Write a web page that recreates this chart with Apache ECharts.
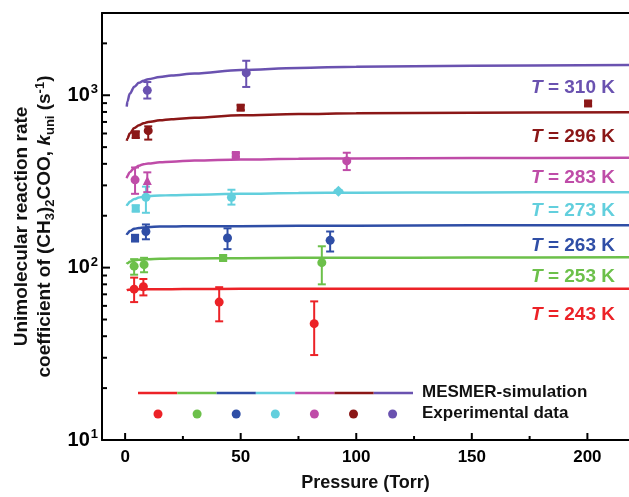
<!DOCTYPE html>
<html>
<head>
<meta charset="utf-8">
<script src="https://cdn.jsdelivr.net/npm/echarts@6/dist/echarts.min.js"></script>
<style>html,body{margin:0;padding:0;background:#fff}#c{width:629px;height:497px}</style>
</head>
<body>
<div id="c"></div>
<script>
// ---------- data ----------
const temps = ['243', '253', '263', '273', '283', '296', '310'];
const colors = ['#ec2227', '#6cc04a', '#2f4ea6', '#62cfdd', '#bf4ca8', '#8b1717', '#6a52b0'];

// MESMER simulation (shared pressure grid, Torr)
const simP = [0.7, 1, 2, 4, 6, 8, 10, 15, 20, 30, 50, 75, 100, 150, 218];
const sim243 = [74, 74.2, 74.5, 74.8, 75, 75, 75, 75, 75, 75.2, 75.3, 75.4, 75.5, 75.5, 75.5];
const sim253 = [105, 106, 108, 110, 111, 111.5, 112, 112.5, 113, 113, 113.5, 114, 114, 114.5, 115];
const sim263 = [155, 158, 163, 168, 170, 171, 172, 173, 173, 174, 174, 175, 175, 176, 176];
const sim273 = [228, 233, 241, 250, 255, 258, 260, 262, 263, 265, 268, 271, 272, 273, 274];
const sim283 = [330, 340, 358, 378, 390, 398, 402, 408, 412, 418, 424, 428, 430, 432, 434];
const sim296 = [545, 560, 600, 645, 670, 688, 700, 715, 725, 740, 765, 778, 785, 792, 796];
const sim310 = [860, 920, 1020, 1120, 1180, 1215, 1240, 1275, 1300, 1335, 1400, 1440, 1465, 1485, 1500];
const simK = [sim243, sim253, sim263, sim273, sim283, sim296, sim310];

// Experimental data: pressure, k, lower, upper, marker
const exp243P = [3.9, 7.9, 40.7, 81.8];
const exp243K = [75, 77.5, 63.1, 47.3];
const exp243Lo = [63.1, 69, 48.8, 31.1];
const exp243Hi = [87.5, 85.9, 77, 63.7];
const exp243S = ['circle', 'circle', 'circle', 'circle'];

const exp253P = [3.9, 8.2, 42.4, 85.1];
const exp253K = [102, 104, 113.7, 106.9];
const exp253Lo = [91, 94, 110, 80];
const exp253Hi = [112, 114, 117.5, 133];
const exp253S = ['circle', 'circle', 'rect', 'circle'];

const exp263P = [4.3, 9, 44.3, 88.7];
const exp263K = [148, 162, 148.6, 144];
const exp263Lo = [142, 146, 128, 124];
const exp263Hi = [155, 178, 169, 162];
const exp263S = ['rect', 'circle', 'circle', 'circle'];

const exp273P = [4.6, 9, 46, 92.3];
const exp273K = [220, 256, 256, 277];
const exp273Lo = [212, 208, 232, 272];
const exp273Hi = [230, 295, 283, 282];
const exp273S = ['rect', 'circle', 'circle', 'diamond'];

const exp283P = [4.3, 9.6, 47.9, 95.9];
const exp283K = [323, 320, 450, 416];
const exp283Lo = [268, 274, 440, 368];
const exp283Hi = [381, 357, 462, 464];
const exp283S = ['circle', 'triangle', 'rect', 'circle'];

const exp296P = [4.6, 10, 50, 200.3];
const exp296K = [591, 623, 847, 896];
const exp296Lo = [565, 553, 820, 870];
const exp296Hi = [617, 660, 875, 922];
const exp296S = ['rect', 'circle', 'rect', 'rect'];

const exp310P = [9.6, 52.4];
const exp310K = [1068, 1348];
const exp310Lo = [957, 1117];
const exp310Hi = [1193, 1585];
const exp310S = ['circle', 'circle'];

const expSets = [
  [exp243P, exp243K, exp243Lo, exp243Hi, exp243S],
  [exp253P, exp253K, exp253Lo, exp253Hi, exp253S],
  [exp263P, exp263K, exp263Lo, exp263Hi, exp263S],
  [exp273P, exp273K, exp273Lo, exp273Hi, exp273S],
  [exp283P, exp283K, exp283Lo, exp283Hi, exp283S],
  [exp296P, exp296K, exp296Lo, exp296Hi, exp296S],
  [exp310P, exp310K, exp310Lo, exp310Hi, exp310S]
];

const xMajor = [0, 50, 100, 150, 200];
const xMinor = [25, 75, 125, 175];
const yMajor = [10, 100, 1000];
const yMinor = [20, 30, 40, 50, 60, 70, 80, 90, 200, 300, 400, 500, 600, 700, 800, 900, 2000];
const supDigits = {10: '1', 100: '2', 1000: '3'};

// ---------- chart ----------
const FF = '"Liberation Sans", Arial, Helvetica, sans-serif';
const X_MIN = -10, X_MAX = 218, Y_MIN = 10, Y_MAX = 3000;
const chart = echarts.init(document.getElementById('c'), null, {renderer: 'canvas'});

const series = [];
temps.forEach((t, i) => {
  series.push({
    type: 'line', name: 'sim' + t, xAxisIndex: 0, yAxisIndex: 0,
    data: simP.map((p, j) => [p, simK[i][j]]),
    showSymbol: false, smooth: 0.35, smoothMonotone: 'x',
    lineStyle: {color: colors[i], width: 2.5}, z: 2, silent: true
  });
  const s = expSets[i];
  series.push({
    type: 'custom', name: 'err' + t, xAxisIndex: 0, yAxisIndex: 0,
    data: s[0].map((p, j) => [p, s[2][j], s[3][j]]),
    encode: {x: 0, y: [1, 2]},
    z: 3, silent: true,
    renderItem: function (params, api) {
      const x = api.value(0);
      const a = api.coord([x, api.value(1)]);
      const b = api.coord([x, api.value(2)]);
      const st = {stroke: colors[i], lineWidth: 2};
      return {type: 'group', children: [
        {type: 'line', shape: {x1: a[0], y1: a[1], x2: b[0], y2: b[1]}, style: st},
        {type: 'line', shape: {x1: a[0] - 4, y1: a[1], x2: a[0] + 4, y2: a[1]}, style: st},
        {type: 'line', shape: {x1: b[0] - 4, y1: b[1], x2: b[0] + 4, y2: b[1]}, style: st}
      ]};
    }
  });
  series.push({
    type: 'scatter', name: 'exp' + t, xAxisIndex: 0, yAxisIndex: 0,
    data: s[0].map((p, j) => ({value: [p, s[1][j]], symbol: s[4][j],
      symbolSize: s[4][j] === 'rect' ? 8 : (s[4][j] === 'diamond' ? 11 : 9)})),
    itemStyle: {color: colors[i], opacity: 1}, z: 4, silent: true
  });
});

// inward axis ticks, placed through the axis scales
function tickSeries(vals, dir, len) {
  return {
    type: 'scatter', xAxisIndex: 0, yAxisIndex: 0, clip: false, silent: true, z: 6,
    data: vals.map(v => dir === 'y' ? [X_MIN, v] : [v, Y_MIN]),
    symbol: 'rect',
    symbolSize: dir === 'y' ? [len, 2] : [2, len],
    symbolOffset: dir === 'y' ? [len / 2, 0] : [0, -len / 2],
    itemStyle: {color: '#000', opacity: 1}
  };
}
series.push(tickSeries(yMajor, 'y', 8));
series.push(tickSeries(yMinor, 'y', 5));
series.push(tickSeries(xMajor, 'x', 7));
series.push(tickSeries(xMinor, 'x', 4));

// graphic annotations and legend
const graphics = [];
const tLabelY = [315, 277, 246, 211, 178, 137, 88];
temps.forEach((t, i) => {
  graphics.push({
    type: 'text', right: 14, top: tLabelY[i] - 10, z: 10,
    style: {
      text: '{i|T} = ' + t + ' K',
      fill: colors[i], font: 'bold 19px ' + FF,
      rich: {i: {fontStyle: 'italic', fontWeight: 'bold', fontSize: 19, fontFamily: FF, fill: colors[i]}}
    }
  });
});
const legX0 = 138, legX1 = 413, legSeg = (legX1 - legX0) / 7;
temps.forEach((t, i) => {
  graphics.push({type: 'line', z: 10, shape: {x1: legX0 + legSeg * i, y1: 393, x2: legX0 + legSeg * (i + 1), y2: 393},
    style: {stroke: colors[i], lineWidth: 2.5}});
  graphics.push({type: 'circle', z: 10, shape: {cx: 158 + 39.1 * i, cy: 414, r: 4.5}, style: {fill: colors[i]}});
});
graphics.push({type: 'text', z: 10, left: 422, top: 384, style: {text: 'MESMER-simulation', fill: '#111', font: 'bold 17px ' + FF}});
graphics.push({type: 'text', z: 10, left: 422, top: 405, style: {text: 'Experimental data', fill: '#111', font: 'bold 17px ' + FF}});

const baseX = {type: 'value', min: X_MIN, max: X_MAX, splitLine: {show: false}};
const baseY = {type: 'log', logBase: 10, min: Y_MIN, max: Y_MAX, splitLine: {show: false}};

const option = {
  animation: false,
  backgroundColor: '#fff',
  grid: {left: 102, right: 0, top: 13, bottom: 50, containLabel: false},
  xAxis: [
    Object.assign({}, baseX, {
      position: 'bottom',
      axisLine: {show: true, onZero: false, lineStyle: {color: '#000', width: 2}},
      axisTick: {show: false},
      axisLabel: {show: true, customValues: xMajor, margin: 9, color: '#000', fontSize: 17, fontWeight: 'bold', fontFamily: FF},
      name: 'Pressure (Torr)', nameLocation: 'middle', nameGap: 34,
      nameTextStyle: {color: '#111', fontSize: 18, fontWeight: 'bold', fontFamily: FF}
    }),
    Object.assign({}, baseX, {
      position: 'top',
      axisLine: {show: true, onZero: false, lineStyle: {color: '#000', width: 2}},
      axisTick: {show: false}, axisLabel: {show: false}
    })
  ],
  yAxis: [
    Object.assign({}, baseY, {
      position: 'left',
      axisLine: {show: true, onZero: false, lineStyle: {color: '#000', width: 2}},
      axisTick: {show: false},
      axisLabel: {
        show: true, customValues: yMajor, margin: 4,
        formatter: function (v) { return '{b|10}{p|' + (supDigits[Math.round(v)] || '') + '}'; },
        rich: {
          b: {fontSize: 20, fontWeight: 'bold', fontFamily: FF, color: '#000', lineHeight: 24},
          p: {fontSize: 13, fontWeight: 'bold', fontFamily: FF, color: '#000', verticalAlign: 'top', lineHeight: 24, padding: [0, 0, 8, 1]}
        }
      },
      name: '{a|Unimolecular reaction rate}\n{a|coefficient of (CH}{s|3}{a|)}{s|2}{a|COO, }{i|k}{s|uni}{a| (s}{p|-1}{a|)}',
      nameLocation: 'middle', nameRotate: 90, nameGap: 42,
      nameTextStyle: {
        color: '#111', fontSize: 19, fontWeight: 'bold', fontFamily: FF, lineHeight: 23,
        rich: {
          a: {fontSize: 19, fontWeight: 'bold', fontFamily: FF, color: '#111', lineHeight: 23},
          i: {fontSize: 19, fontWeight: 'bold', fontStyle: 'italic', fontFamily: FF, color: '#111', lineHeight: 23},
          s: {fontSize: 13, fontWeight: 'bold', fontFamily: FF, color: '#111', verticalAlign: 'bottom', lineHeight: 23, padding: [6, 0, 0, 0]},
          p: {fontSize: 13, fontWeight: 'bold', fontFamily: FF, color: '#111', verticalAlign: 'top', lineHeight: 23, padding: [0, 0, 6, 0]}
        }
      }
    })
  ],
  series: series,
  graphic: graphics
};
chart.setOption(option);
</script>
</body>
</html>
